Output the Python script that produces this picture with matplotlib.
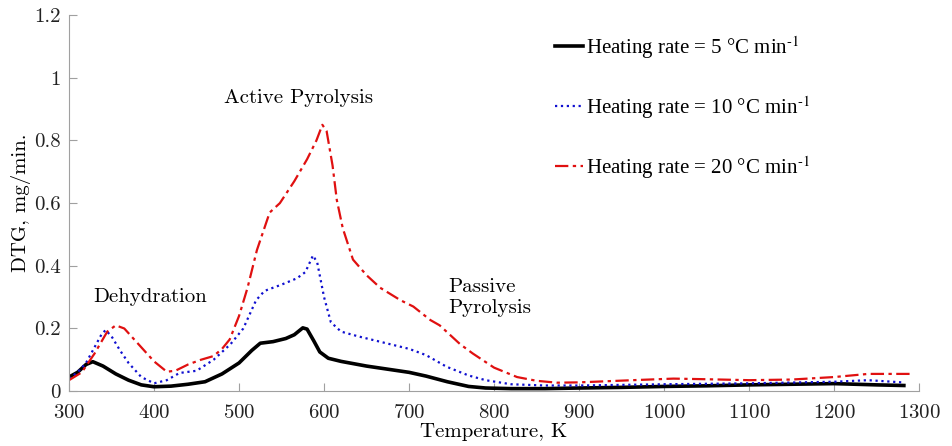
import matplotlib
matplotlib.use("Agg")
import matplotlib.pyplot as plt
from matplotlib.ticker import FuncFormatter

# DTG curves (temperature in K, DTG in mg/min)
t_5 = [300, 310, 320, 328, 340, 355, 370, 385, 400, 420, 440, 460, 480, 500, 515, 525, 540,
       555, 565, 575, 580, 588, 595, 605, 620, 650, 680, 700, 720, 745, 770, 790, 820, 860,
       900, 950, 1000, 1050, 1100, 1150, 1200, 1250, 1282]
dtg_5 = [0.045, 0.06, 0.085, 0.094, 0.08, 0.055, 0.035, 0.02, 0.014, 0.016, 0.022, 0.03, 0.055,
         0.09, 0.13, 0.153, 0.158, 0.168, 0.18, 0.202, 0.198, 0.16, 0.125, 0.105, 0.095, 0.08,
         0.068, 0.06, 0.048, 0.03, 0.015, 0.01, 0.008, 0.008, 0.01, 0.012, 0.015, 0.017, 0.02,
         0.022, 0.024, 0.02, 0.018]

t_10 = [300, 310, 320, 330, 338, 343, 350, 360, 370, 385, 400, 415, 430, 450, 470, 490, 505,
        520, 530, 550, 568, 578, 587, 592, 600, 608, 620, 640, 670, 700, 720, 744, 770, 790,
        820, 860, 900, 1000, 1100, 1200, 1240, 1280]
dtg_10 = [0.04, 0.06, 0.09, 0.14, 0.18, 0.195, 0.175, 0.13, 0.09, 0.045, 0.025, 0.035, 0.058,
          0.065, 0.1, 0.15, 0.2, 0.29, 0.32, 0.34, 0.36, 0.38, 0.433, 0.41, 0.3, 0.22, 0.19,
          0.175, 0.155, 0.135, 0.115, 0.078, 0.05, 0.035, 0.022, 0.018, 0.018, 0.022, 0.025,
          0.03, 0.035, 0.028]

t_20 = [300, 315, 330, 345, 355, 365, 380, 400, 415, 425, 440, 455, 470, 480, 489, 500, 510,
        521, 536, 548, 565, 580, 591, 598, 603, 610, 615, 622, 634, 650, 666, 690, 705, 725,
        736, 760, 775, 800, 827, 850, 874, 900, 963, 1011, 1050, 1100, 1150, 1200, 1240, 1290]
dtg_20 = [0.035, 0.06, 0.12, 0.19, 0.21, 0.2, 0.155, 0.095, 0.062, 0.065, 0.085, 0.1, 0.112,
          0.135, 0.165, 0.24, 0.33, 0.45, 0.57, 0.6, 0.67, 0.74, 0.8, 0.85, 0.83, 0.72, 0.61,
          0.52, 0.42, 0.37, 0.33, 0.29, 0.27, 0.227, 0.21, 0.15, 0.12, 0.075, 0.045, 0.033,
          0.027, 0.028, 0.035, 0.04, 0.038, 0.035, 0.037, 0.045, 0.055, 0.055]

labels = [r"Heating rate = 5 °C min$^{\text{-1}}$",
          r"Heating rate = 10 °C min$^{\text{-1}}$",
          r"Heating rate = 20 °C min$^{\text{-1}}$"]

plt.rcParams["mathtext.fontset"] = "stix"
plt.rcParams["font.family"] = ["cmr10", "DejaVu Serif"]
plt.rcParams["axes.formatter.use_mathtext"] = True

fig = plt.figure(figsize=(9.52, 4.46), dpi=100)
ax = fig.add_axes([0.0725, 0.123, 0.893, 0.843])

ax.plot(t_5, dtg_5, color="black", lw=2.6, label=labels[0])
ax.plot(t_10, dtg_10, color="#1010d0", lw=1.6, ls=":", label=labels[1])
ax.plot(t_20, dtg_20, color="#e01010", lw=1.6, ls=(0, (6, 2, 1.5, 2)), label=labels[2])

ax.set_xlim(300, 1300)
ax.set_ylim(0, 1.2)
ax.set_xticks(range(300, 1301, 100))
ax.set_yticks([0, 0.2, 0.4, 0.6, 0.8, 1.0, 1.2])
ax.yaxis.set_major_formatter(FuncFormatter(lambda v, p: "%g" % v))

for s in ["top", "right"]:
    ax.spines[s].set_visible(False)
for s in ["left", "bottom"]:
    ax.spines[s].set_color("#a0a0a0")
ax.tick_params(direction="in", length=6, color="#a0a0a0", labelsize=15, labelcolor="#222222")
ax.tick_params(axis="x", pad=9)
ax.tick_params(axis="y", pad=6)

ax.set_xlabel("Temperature, K", fontsize=15, labelpad=1)
ax.set_ylabel("DTG, mg/min.", fontsize=15, labelpad=2)

ax.text(570, 0.935, "Active Pyrolysis", fontsize=15, ha="center", va="center")
ax.text(395, 0.30, "Dehydration", fontsize=15, ha="center", va="center")
ax.text(746, 0.30, "Passive\nPyrolysis", fontsize=15, ha="left", va="center", linespacing=1.2)

leg = ax.legend(loc="upper right", bbox_to_anchor=(0.893, 1.0), frameon=False,
                prop={"family": "Liberation Serif", "size": 15}, handlelength=1.35,
                handletextpad=0.12, labelspacing=1.6)

fig.savefig("out.png", dpi=100)
